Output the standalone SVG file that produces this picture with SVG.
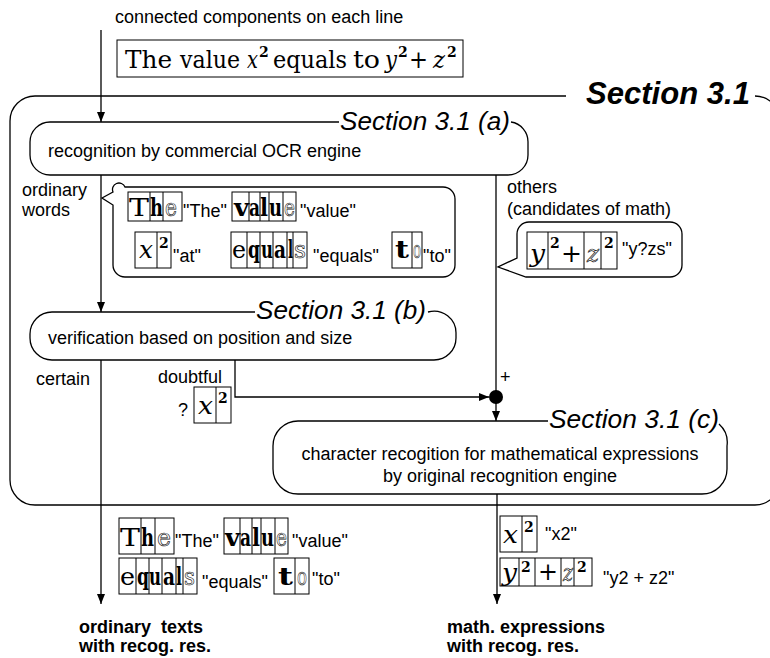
<svg xmlns="http://www.w3.org/2000/svg" width="770" height="658" viewBox="0 0 770 658">
  <defs>
    <marker id="arrow" markerUnits="userSpaceOnUse" markerWidth="10" markerHeight="8" refX="10" refY="4" orient="auto">
      <path d="M0,0 L10,4 L0,8 Z" fill="#000"/>
    </marker>
    <style>
      .ln { fill: none; stroke: #000; stroke-width: 1.3; }
      .cell { fill: none; stroke: #000; stroke-width: 1; }
      .t { font-family: "Liberation Sans", Arial, sans-serif; font-size: 18px; fill: #000; }
      .tb { font-family: "Liberation Sans", Arial, sans-serif; font-size: 18px; font-weight: bold; fill: #000; }
      .sec { font-family: "Liberation Sans", Arial, sans-serif; font-size: 26px; font-style: italic; fill: #000; }
      .big { font-family: "Liberation Sans", Arial, sans-serif; font-size: 31px; font-style: italic; font-weight: bold; fill: #000; }
      .g { font-family: "DejaVu Serif", "Liberation Serif", serif; font-size: 25px; fill: #000; }
      .f { font-family: "DejaVu Serif", "Liberation Serif", serif; font-size: 25px; fill: #000; }
      .gb { font-weight: bold; }
      .gi { font-style: italic; }
      .go { fill: none; stroke: #222; stroke-width: 0.7; }
      .sup { font-size: 14px; font-weight: bold; }
    </style>
  </defs>

  <!-- input line of connected components -->
  <g id="input">
    <text class="t" x="115" y="23">connected components on each line</text>
    <rect class="cell" x="117" y="40" width="346" height="37" stroke-width="1.3"/>
    <text class="f" x="125" y="68" textLength="47" lengthAdjust="spacingAndGlyphs">The</text>
    <text class="f" x="180" y="68" textLength="60" lengthAdjust="spacingAndGlyphs">value</text>
    <text class="f gi" x="247" y="68" textLength="11" lengthAdjust="spacingAndGlyphs">x</text>
    <text class="f sup" x="259" y="57">2</text>
    <text class="f" x="273" y="68" textLength="74" lengthAdjust="spacingAndGlyphs">equals</text>
    <text class="f" x="353" y="68" textLength="27" lengthAdjust="spacingAndGlyphs">to</text>
    <text class="f gi" x="385" y="68" textLength="12" lengthAdjust="spacingAndGlyphs">y</text>
    <text class="f sup" x="398" y="57">2</text>
    <text class="f" x="409" y="68" textLength="19" lengthAdjust="spacingAndGlyphs">+</text>
    <text class="f gi" x="433" y="68" textLength="12" lengthAdjust="spacingAndGlyphs">z</text>
    <text class="f sup" x="447" y="57">2</text>
  </g>

  <!-- whole section 3.1 frame -->
  <g id="section31">
    <path class="ln" d="M755 96 A25 25 0 0 1 780 121 L780 480 A25 25 0 0 1 755 505 L35 505 A25 25 0 0 1 10 480 L10 121 A25 25 0 0 1 35 96 L566 96"/>
    <text class="big" x="586" y="104" textLength="164" lengthAdjust="spacingAndGlyphs">Section 3.1</text>
  </g>

  <!-- 3.1 (a) -->
  <g id="ocr">
    <path class="ln" d="M511 122 A20 20 0 0 1 528 142 L528 155 A20 20 0 0 1 508 175 L50 175 A20 20 0 0 1 30 155 L30 142 A20 20 0 0 1 50 122 L339 122"/>
    <text class="sec" x="340" y="130" textLength="170" lengthAdjust="spacingAndGlyphs">Section 3.1 (a)</text>
    <text class="t" x="48" y="157">recognition by commercial OCR engine</text>
  </g>

  <!-- 3.1 (b) -->
  <g id="verify">
    <path class="ln" d="M428 312 A22 22 0 0 1 456 334 L456 338 A22 22 0 0 1 434 360 L52 360 A22 22 0 0 1 30 338 L30 334 A22 22 0 0 1 52 312 L255 312"/>
    <text class="sec" x="256" y="319" textLength="170" lengthAdjust="spacingAndGlyphs">Section 3.1 (b)</text>
    <text class="t" x="48" y="344">verification based on position and size</text>
  </g>

  <!-- 3.1 (c) -->
  <g id="mathocr">
    <path class="ln" d="M719 424 A25 25 0 0 1 727 446 L727 469 A25 25 0 0 1 702 494 L298 494 A25 25 0 0 1 273 469 L273 446 A25 25 0 0 1 298 421 L548 421"/>
    <text class="sec" x="549" y="428" textLength="170" lengthAdjust="spacingAndGlyphs">Section 3.1 (c)</text>
    <text class="t" x="500" y="460" text-anchor="middle">character recogition for mathematical expressions</text>
    <text class="t" x="500" y="482" text-anchor="middle">by original recognition engine</text>
  </g>

  <!-- callout: ordinary words -->
  <g id="words">
    <path class="ln" d="M125 187 L443 187 A12 12 0 0 1 455 199 L455 265 A12 12 0 0 1 443 277 L125 277 A12 12 0 0 1 113 265 L113 205 L102 198 L113 192 A6 6 0 0 1 125 187 Z"/>
    <g class="cell">
      <rect x="128" y="192" width="54" height="29"/><line x1="150" y1="192" x2="150" y2="221"/><line x1="163" y1="192" x2="163" y2="221"/>
      <rect x="232" y="192" width="64" height="29"/><line x1="249" y1="192" x2="249" y2="221"/><line x1="260" y1="192" x2="260" y2="221"/><line x1="269" y1="192" x2="269" y2="221"/><line x1="283" y1="192" x2="283" y2="221"/>
      <rect x="135" y="232" width="36" height="36"/><line x1="157" y1="232" x2="157" y2="268"/>
      <rect x="231" y="232" width="76" height="36"/><line x1="247" y1="232" x2="247" y2="268"/><line x1="260" y1="232" x2="260" y2="268"/><line x1="273" y1="232" x2="273" y2="268"/><line x1="287" y1="232" x2="287" y2="268"/><line x1="293" y1="232" x2="293" y2="268"/>
      <rect x="392" y="232" width="30" height="36"/><line x1="412" y1="232" x2="412" y2="268"/>
    </g>
    <text class="g" x="129" y="216" textLength="20" lengthAdjust="spacingAndGlyphs">T</text>
    <text class="g gb" x="150" y="216" textLength="13" lengthAdjust="spacingAndGlyphs">h</text>
    <text class="g go" x="165" y="216" textLength="12" lengthAdjust="spacingAndGlyphs">e</text>
    <text class="g gb" x="234" y="216" textLength="15" lengthAdjust="spacingAndGlyphs">v</text>
    <text class="g gb" x="249" y="216" textLength="11" lengthAdjust="spacingAndGlyphs">a</text>
    <text class="g gb" x="260" y="216" textLength="8" lengthAdjust="spacingAndGlyphs">l</text>
    <text class="g gb" x="269" y="216" textLength="13" lengthAdjust="spacingAndGlyphs">u</text>
    <text class="g go" x="284" y="216" textLength="11" lengthAdjust="spacingAndGlyphs">e</text>
    <text class="t" x="183" y="217">"The"</text>
    <text class="t" x="300" y="217">"value"</text>
    <text class="g gi" x="139" y="258" textLength="14" lengthAdjust="spacingAndGlyphs">x</text>
    <text class="g sup" x="159" y="248">2</text>
    <text class="t" x="173" y="262">"at"</text>
    <text class="g" x="232" y="258" textLength="14" lengthAdjust="spacingAndGlyphs">e</text>
    <text class="g gb" x="248" y="258" textLength="12" lengthAdjust="spacingAndGlyphs">q</text>
    <text class="g gb" x="261" y="258" textLength="12" lengthAdjust="spacingAndGlyphs">u</text>
    <text class="g gb" x="274" y="258" textLength="12" lengthAdjust="spacingAndGlyphs">a</text>
    <text class="g gb" x="288" y="258" textLength="5" lengthAdjust="spacingAndGlyphs">l</text>
    <text class="g go" x="294" y="258" textLength="12" lengthAdjust="spacingAndGlyphs">s</text>
    <text class="t" x="313" y="262">"equals"</text>
    <text class="g gb" x="395" y="258" textLength="14" lengthAdjust="spacingAndGlyphs">t</text>
    <text class="g go" x="413" y="258" textLength="8" lengthAdjust="spacingAndGlyphs">o</text>
    <text class="t" x="423" y="262">"to"</text>
  </g>

  <!-- callout: math candidates -->
  <g id="candidates">
    <path class="ln" d="M529 222 L670 222 A12 12 0 0 1 682 234 L682 265 A12 12 0 0 1 670 277 L526 277 L498 267 L517 258 L517 234 A12 12 0 0 1 529 222 Z"/>
    <g class="cell">
      <rect x="527" y="232" width="90" height="37"/><line x1="548" y1="232" x2="548" y2="269"/><line x1="584" y1="232" x2="584" y2="269"/><line x1="601" y1="232" x2="601" y2="269"/>
    </g>
    <text class="g gi" x="530" y="262" textLength="15" lengthAdjust="spacingAndGlyphs">y</text>
    <text class="g sup" x="550" y="248">2</text>
    <text class="g" x="561" y="262" textLength="21" lengthAdjust="spacingAndGlyphs">+</text>
    <text class="g gi go" x="587" y="262" textLength="12" lengthAdjust="spacingAndGlyphs">z</text>
    <text class="g sup" x="604" y="248">2</text>
    <text class="t" x="622" y="255">"y?zs"</text>
  </g>

  <!-- doubtful word -->
  <g id="doubtful">
    <g class="cell">
      <rect x="194" y="387" width="37" height="36"/><line x1="216" y1="387" x2="216" y2="423"/>
    </g>
    <text class="g gi" x="198" y="414" textLength="15" lengthAdjust="spacingAndGlyphs">x</text>
    <text class="g sup" x="218" y="403">2</text>
    <text class="t" x="178" y="416">?</text>
  </g>

  <!-- junction -->
  <g id="merge">
    <circle cx="496" cy="397" r="7" fill="#000"/>
  </g>

  <!-- result: ordinary texts -->
  <g id="texts">
    <g class="cell">
      <rect x="119" y="518" width="55" height="36"/><line x1="141" y1="518" x2="141" y2="554"/><line x1="155" y1="518" x2="155" y2="554"/>
      <rect x="224" y="518" width="64" height="36"/><line x1="240" y1="518" x2="240" y2="554"/><line x1="252" y1="518" x2="252" y2="554"/><line x1="261" y1="518" x2="261" y2="554"/><line x1="275" y1="518" x2="275" y2="554"/>
      <rect x="119" y="558" width="78" height="36"/><line x1="136" y1="558" x2="136" y2="594"/><line x1="149" y1="558" x2="149" y2="594"/><line x1="162" y1="558" x2="162" y2="594"/><line x1="176" y1="558" x2="176" y2="594"/><line x1="183" y1="558" x2="183" y2="594"/>
      <rect x="274" y="558" width="35" height="36"/><line x1="295" y1="558" x2="295" y2="594"/>
    </g>
    <text class="g" x="120" y="546" textLength="20" lengthAdjust="spacingAndGlyphs">T</text>
    <text class="g gb" x="141" y="546" textLength="13" lengthAdjust="spacingAndGlyphs">h</text>
    <text class="g go" x="157" y="546" textLength="14" lengthAdjust="spacingAndGlyphs">e</text>
    <text class="g gb" x="225" y="546" textLength="15" lengthAdjust="spacingAndGlyphs">v</text>
    <text class="g gb" x="240" y="546" textLength="11" lengthAdjust="spacingAndGlyphs">a</text>
    <text class="g gb" x="252" y="546" textLength="8" lengthAdjust="spacingAndGlyphs">l</text>
    <text class="g gb" x="261" y="546" textLength="13" lengthAdjust="spacingAndGlyphs">u</text>
    <text class="g go" x="276" y="546" textLength="11" lengthAdjust="spacingAndGlyphs">e</text>
    <text class="t" x="175" y="547">"The"</text>
    <text class="t" x="292" y="547">"value"</text>
    <text class="g" x="120" y="585" textLength="15" lengthAdjust="spacingAndGlyphs">e</text>
    <text class="g gb" x="137" y="585" textLength="12" lengthAdjust="spacingAndGlyphs">q</text>
    <text class="g gb" x="149" y="585" textLength="12" lengthAdjust="spacingAndGlyphs">u</text>
    <text class="g gb" x="163" y="585" textLength="12" lengthAdjust="spacingAndGlyphs">a</text>
    <text class="g gb" x="176" y="585" textLength="6" lengthAdjust="spacingAndGlyphs">l</text>
    <text class="g go" x="184" y="585" textLength="11" lengthAdjust="spacingAndGlyphs">s</text>
    <text class="t" x="202" y="588">"equals"</text>
    <text class="g gb" x="278" y="585" textLength="15" lengthAdjust="spacingAndGlyphs">t</text>
    <text class="g go" x="297" y="585" textLength="10" lengthAdjust="spacingAndGlyphs">o</text>
    <text class="t" x="312" y="585">"to"</text>
    <text class="tb" x="79" y="633" xml:space="preserve">ordinary  texts</text>
    <text class="tb" x="79" y="652">with recog. res.</text>
  </g>

  <!-- result: math expressions -->
  <g id="maths">
    <g class="cell">
      <rect x="500" y="516" width="37" height="36"/><line x1="522" y1="516" x2="522" y2="552"/>
      <rect x="500" y="558" width="92" height="28"/><line x1="519" y1="558" x2="519" y2="586"/><line x1="535" y1="558" x2="535" y2="586"/><line x1="561" y1="558" x2="561" y2="586"/><line x1="574" y1="558" x2="574" y2="586"/>
    </g>
    <text class="g gi" x="503" y="543" textLength="15" lengthAdjust="spacingAndGlyphs">x</text>
    <text class="g sup" x="524" y="532">2</text>
    <text class="t" x="545" y="540">"x2"</text>
    <text class="g gi" x="502" y="581" textLength="15" lengthAdjust="spacingAndGlyphs">y</text>
    <text class="g sup" x="521" y="572">2</text>
    <text class="g" x="538" y="580" textLength="20" lengthAdjust="spacingAndGlyphs">+</text>
    <text class="g gi go" x="563" y="581" textLength="10" lengthAdjust="spacingAndGlyphs">z</text>
    <text class="g sup" x="577" y="572">2</text>
    <text class="t" x="603" y="584">"y2 + z2"</text>
    <text class="tb" x="447" y="633">math. expressions</text>
    <text class="tb" x="447" y="652">with recog. res.</text>
  </g>

  <!-- flow connectors and their labels -->
  <g id="connectors">
    <line class="ln" x1="101" y1="30" x2="101" y2="122" marker-end="url(#arrow)"/>
    <line class="ln" x1="101" y1="175" x2="101" y2="312" marker-end="url(#arrow)"/>
    <line class="ln" x1="101" y1="360" x2="101" y2="604" marker-end="url(#arrow)"/>
    <line class="ln" x1="496" y1="175" x2="496" y2="392"/>
    <polyline class="ln" points="235,360 235,397 489,397" marker-end="url(#arrow)"/>
    <line class="ln" x1="496" y1="402" x2="496" y2="421" marker-end="url(#arrow)"/>
    <line class="ln" x1="497" y1="494" x2="497" y2="604" marker-end="url(#arrow)"/>
    <text class="t" x="22" y="196">ordinary</text>
    <text class="t" x="22" y="216">words</text>
    <text class="t" x="507" y="193">others</text>
    <text class="t" x="507" y="215">(candidates of math)</text>
    <text class="t" x="36" y="385">certain</text>
    <text class="t" x="158" y="383">doubtful</text>
    <text class="t" x="500" y="383" font-size="15">+</text>
  </g>
</svg>
